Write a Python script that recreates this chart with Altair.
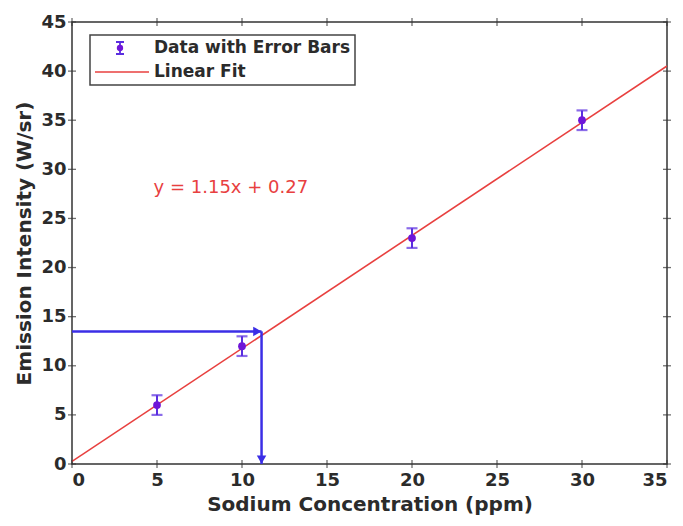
import altair as alt
import pandas as pd

# ---- data ----
conc = [5, 10, 20, 30]
intensity = [6, 12, 23, 35]
err = [1, 1, 1, 1]

fit_x = [0, 35]
fit_y = [0.27, 40.52]

arrow_x = 11.15
arrow_y = 13.5

eq_text = "y = 1.15x + 0.27"
eq_x, eq_y = 4.8, 28.1

x_ticks = [0, 5, 10, 15, 20, 25, 30, 35]
y_ticks = [0, 5, 10, 15, 20, 25, 30, 35, 40, 45]
legend_labels = ["Data with Error Bars", "Linear Fit"]

W, H = 595, 442
FONT = "DejaVu Sans"
TXT = "#2b2b2b"
PURPLE = "#6f16d8"
EBAR = "#5a2ee0"
BLUE = "#3b2ee6"
RED = "#e8403f"

pts = pd.DataFrame({"x": conc, "y": intensity,
                    "lo": [v - e for v, e in zip(intensity, err)],
                    "hi": [v + e for v, e in zip(intensity, err)]})
fit = pd.DataFrame({"x": fit_x, "y": fit_y})
hline = pd.DataFrame({"x": [0], "x2": [arrow_x], "y": [arrow_y]})
vline = pd.DataFrame({"x": [arrow_x], "y": [arrow_y], "y2": [0]})
head_r = pd.DataFrame({"x": [arrow_x - 0.25], "y": [arrow_y]})
head_d = pd.DataFrame({"x": [arrow_x], "y": [0.45]})
eq = pd.DataFrame({"x": [eq_x], "y": [eq_y], "t": [eq_text]})
xt = pd.DataFrame({"v": x_ticks})
yt = pd.DataFrame({"v": y_ticks})
one = pd.DataFrame({"a": [0]})

xs = alt.Scale(domain=[0, 35], nice=False, zero=False)
ys = alt.Scale(domain=[0, 45], nice=False, zero=False)

xaxis = alt.Axis(values=x_ticks, title="Sodium Concentration (ppm)", grid=False,
                 ticks=False, domain=False, labelPadding=7, titlePadding=5,
                 labelFontSize=18, labelFontWeight="bold", labelColor=TXT,
                 titleFontSize=20, titleFontWeight="bold", titleColor=TXT,
                 labelFont=FONT, titleFont=FONT)
yaxis = alt.Axis(values=y_ticks, title="Emission Intensity (W/sr)", grid=False,
                 ticks=False, domain=False, labelPadding=6, titlePadding=6,
                 labelFontSize=18, labelFontWeight="bold", labelColor=TXT,
                 titleFontSize=20, titleFontWeight="bold", titleColor=TXT,
                 labelFont=FONT, titleFont=FONT)

base_fit = alt.Chart(fit).mark_line(color=RED, strokeWidth=1.6, clip=True).encode(
    x=alt.X("x:Q", scale=xs, axis=xaxis),
    y=alt.Y("y:Q", scale=ys, axis=yaxis))

ebar = alt.Chart(pts).mark_rule(color=EBAR, strokeWidth=2).encode(
    x=alt.X("x:Q", scale=xs), y=alt.Y("lo:Q", scale=ys), y2="hi:Q")
cap_lo = alt.Chart(pts).mark_tick(color=EBAR, orient="horizontal", size=11, thickness=2.2).encode(
    x=alt.X("x:Q", scale=xs), y=alt.Y("lo:Q", scale=ys))
cap_hi = alt.Chart(pts).mark_tick(color=EBAR, orient="horizontal", size=11, thickness=2.2).encode(
    x=alt.X("x:Q", scale=xs), y=alt.Y("hi:Q", scale=ys))
dots = alt.Chart(pts).mark_point(filled=True, color=PURPLE, size=60, opacity=1).encode(
    x=alt.X("x:Q", scale=xs), y=alt.Y("y:Q", scale=ys))

harrow = alt.Chart(hline).mark_rule(color=BLUE, strokeWidth=2.5).encode(
    x=alt.X("x:Q", scale=xs), x2="x2:Q", y=alt.Y("y:Q", scale=ys))
varrow = alt.Chart(vline).mark_rule(color=BLUE, strokeWidth=2.5).encode(
    x=alt.X("x:Q", scale=xs), y=alt.Y("y:Q", scale=ys), y2="y2:Q")
hr = alt.Chart(head_r).mark_point(shape="triangle-right", filled=True, color=BLUE, size=90, opacity=1).encode(
    x=alt.X("x:Q", scale=xs), y=alt.Y("y:Q", scale=ys))
hd = alt.Chart(head_d).mark_point(shape="triangle-down", filled=True, color=BLUE, size=90, opacity=1).encode(
    x=alt.X("x:Q", scale=xs), y=alt.Y("y:Q", scale=ys))

eqt = alt.Chart(eq).mark_text(color=RED, fontSize=18, font=FONT, align="left", baseline="middle").encode(
    x=alt.X("x:Q", scale=xs), y=alt.Y("y:Q", scale=ys), text="t:N")

# inward ticks on all four sides
tb = alt.Chart(xt).mark_tick(color="#333", orient="vertical", size=8, thickness=1.3).encode(
    x=alt.X("v:Q", scale=xs), y=alt.value(H))
tt = alt.Chart(xt).mark_tick(color="#333", orient="vertical", size=8, thickness=1.3).encode(
    x=alt.X("v:Q", scale=xs), y=alt.value(0))
tl = alt.Chart(yt).mark_tick(color="#333", orient="horizontal", size=8, thickness=1.3).encode(
    y=alt.Y("v:Q", scale=ys), x=alt.value(0))
tr = alt.Chart(yt).mark_tick(color="#333", orient="horizontal", size=8, thickness=1.3).encode(
    y=alt.Y("v:Q", scale=ys), x=alt.value(W))

# legend (positions in pixels of the plot area)
lbox = alt.Chart(one).mark_rect(fill="white", stroke="#444", strokeWidth=1.5).encode(
    x=alt.value(18), x2=alt.value(283), y=alt.value(13), y2=alt.value(63))
l_line = alt.Chart(one).mark_rule(color=RED, strokeWidth=1.6).encode(
    x=alt.value(23), x2=alt.value(77), y=alt.value(50))
l_eb = alt.Chart(one).mark_rule(color=EBAR, strokeWidth=1.8).encode(
    x=alt.value(48), y=alt.value(20), y2=alt.value(32))
l_c1 = alt.Chart(one).mark_rule(color=EBAR, strokeWidth=2).encode(
    x=alt.value(44), x2=alt.value(52), y=alt.value(20))
l_c2 = alt.Chart(one).mark_rule(color=EBAR, strokeWidth=2).encode(
    x=alt.value(44), x2=alt.value(52), y=alt.value(32))
l_pt = alt.Chart(one).mark_point(filled=True, color=PURPLE, size=40, opacity=1).encode(
    x=alt.value(48), y=alt.value(26))
l_t1 = alt.Chart(pd.DataFrame({"t": [legend_labels[0]]})).mark_text(
    align="left", baseline="middle", fontSize=17, fontWeight="bold", font=FONT, color=TXT).encode(
    x=alt.value(82), y=alt.value(26), text="t:N")
l_t2 = alt.Chart(pd.DataFrame({"t": [legend_labels[1]]})).mark_text(
    align="left", baseline="middle", fontSize=17, fontWeight="bold", font=FONT, color=TXT).encode(
    x=alt.value(82), y=alt.value(50), text="t:N")

chart = alt.layer(
    base_fit, harrow, varrow, hr, hd, ebar, cap_lo, cap_hi, dots, eqt,
    tb, tt, tl, tr,
    lbox, l_line, l_eb, l_c1, l_c2, l_pt, l_t1, l_t2
).properties(
    width=W, height=H,
    autosize=alt.AutoSizeParams(type="none"),
    padding={"left": 72, "top": 22, "right": 16, "bottom": 62},
    background="white"
).configure_view(stroke="#333", strokeWidth=1.5)

chart.save("out.html", embed_options={"renderer": "svg", "actions": False})
